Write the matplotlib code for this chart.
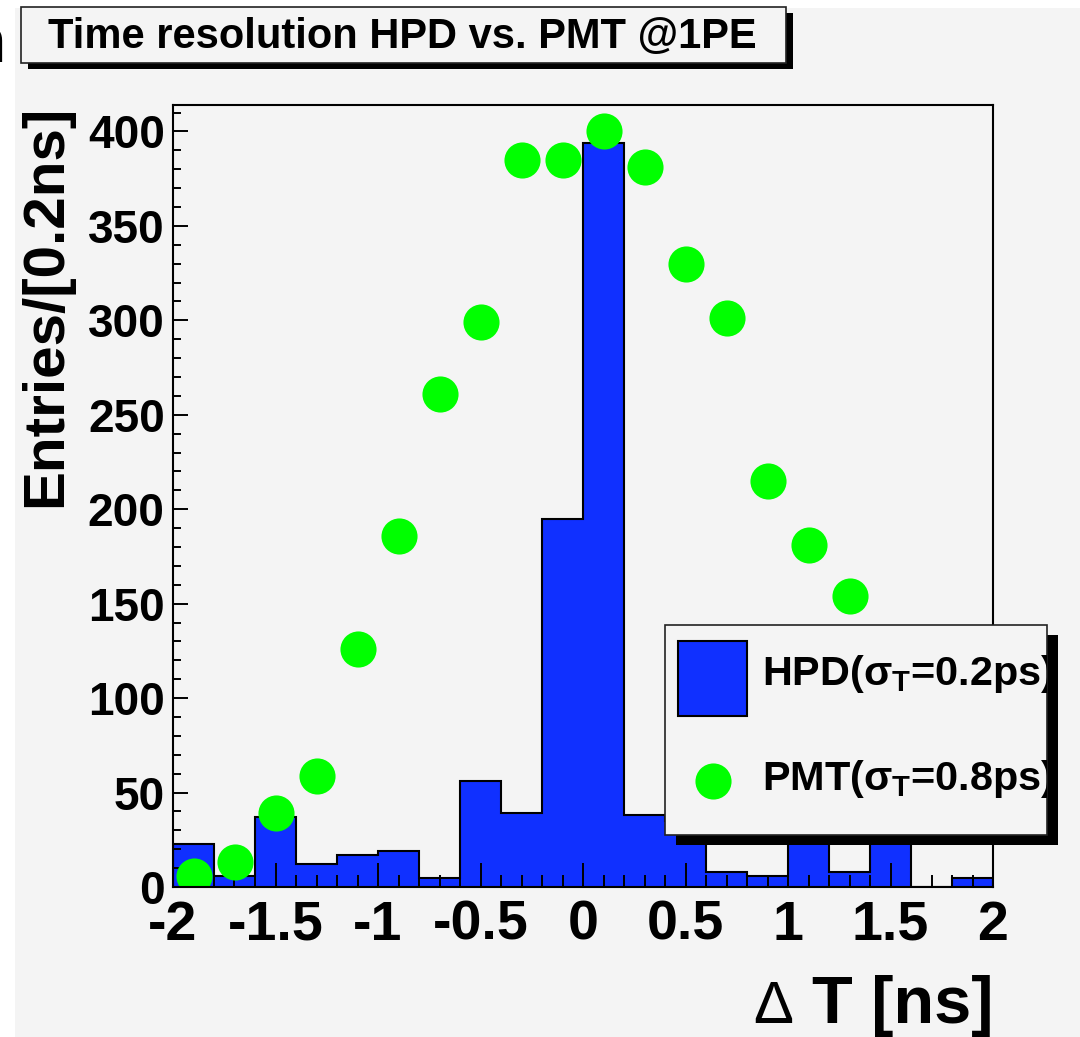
import numpy as np
import matplotlib
matplotlib.use("Agg")
import matplotlib.pyplot as plt
from matplotlib.patches import Rectangle
from matplotlib.lines import Line2D
from matplotlib.ticker import MultipleLocator, FixedLocator

plt.rcParams["font.family"] = ["Liberation Sans", "DejaVu Sans"]
plt.rcParams["mathtext.fontset"] = "custom"
plt.rcParams["mathtext.rm"] = "Liberation Sans"
plt.rcParams["mathtext.bf"] = "Liberation Sans:bold"

# HPD histogram, 0.2 ns bins
bin_edges = [-2.0, -1.8, -1.6, -1.4, -1.2, -1.0, -0.8, -0.6, -0.4, -0.2, 0.0,
             0.2, 0.4, 0.6, 0.8, 1.0, 1.2, 1.4, 1.6, 1.8, 2.0]
hpd_counts = [23, 6, 37, 12, 17, 19, 5, 56, 39, 195, 394,
              38, 35, 8, 6, 28, 8, 30, 0, 5]

# PMT points at bin centres
pmt_x = [-1.9, -1.7, -1.5, -1.3, -1.1, -0.9, -0.7, -0.5, -0.3, -0.1,
         0.1, 0.3, 0.5, 0.7, 0.9, 1.1, 1.3, 1.5, 1.7, 1.9]
pmt_counts = [6, 13, 39, 59, 126, 186, 261, 299, 385, 385,
              400, 381, 330, 301, 215, 181, 154, 110, 75, 45]

x_ticks = [-2, -1.5, -1, -0.5, 0, 0.5, 1, 1.5, 2]
x_tick_labels = ["-2", "-1.5", "-1", "-0.5", "0", "0.5", "1", "1.5", "2"]
y_ticks = [0, 50, 100, 150, 200, 250, 300, 350, 400]

title = "Time resolution HPD vs. PMT @1PE"
hpd_label = r"HPD(σ$_{\mathbf{T}}$=0.2ps)"
pmt_label = r"PMT(σ$_{\mathbf{T}}$=0.8ps)"

blue = "#1030ff"
green = "#00ff00"
grey = "#f4f4f4"

W, H = 1080, 1037


def fx(x):
    return x / W


def fy(y):
    return 1 - y / H


fig = plt.figure(figsize=(W / 100, H / 100), dpi=100)
fig.patch.set_facecolor("white")

# grey canvas with a thin white margin at left and top
fig.add_artist(Rectangle((fx(15), 0), 1 - fx(15), fy(8), transform=fig.transFigure,
                         facecolor=grey, edgecolor="none", zorder=-10))

ax = fig.add_axes([fx(173), fy(887), fx(993) - fx(173), fy(105) - fy(887)])
ax.set_facecolor(grey)

# histogram fill + outline
ax.stairs(hpd_counts, bin_edges, fill=True, color=blue, zorder=1)
ax.stairs(hpd_counts, bin_edges, baseline=0, color="black", linewidth=1.5, zorder=1.2)

# PMT markers
ax.plot(pmt_x, pmt_counts, "o", color=green, markersize=26, markeredgewidth=0, zorder=3)

ax.set_xlim(-2, 2)
ax.set_ylim(0, 414)

ax.xaxis.set_major_locator(FixedLocator(x_ticks))
ax.set_xticklabels(x_tick_labels)
ax.xaxis.set_minor_locator(MultipleLocator(0.1))
ax.yaxis.set_major_locator(FixedLocator(y_ticks))
ax.yaxis.set_minor_locator(MultipleLocator(10))

ax.tick_params(axis="x", which="major", direction="in", length=17, width=1.4,
               labelsize=40, pad=9, top=False)
ax.tick_params(axis="x", which="minor", direction="in", length=9, width=1.4, top=False)
ax.tick_params(axis="y", which="major", direction="in", length=11, width=1.4,
               labelsize=33, pad=6, right=False)
ax.tick_params(axis="y", which="minor", direction="in", length=5.5, width=1.4, right=False)
for lab in ax.get_xticklabels() + ax.get_yticklabels():
    lab.set_fontweight("bold")

for sp in ax.spines.values():
    sp.set_linewidth(1.5)
    sp.set_zorder(4)

# axis titles
fig.text(fx(46), fy(105), "Entries/[0.2ns]", rotation=90, ha="center", va="top",
         fontsize=42, fontweight="bold")
fig.text(fx(753), fy(1023), "Δ", ha="left", va="baseline", fontsize=43)
fig.text(fx(993), fy(1023), "T [ns]", ha="right", va="baseline", fontsize=48,
         fontweight="bold")

# title box with shadow
fig.add_artist(Rectangle((fx(28), fy(69)), fx(786) - fx(21), fy(7) - fy(63),
                         transform=fig.transFigure, facecolor="black", edgecolor="none", zorder=5))
fig.add_artist(Rectangle((fx(21), fy(63)), fx(786) - fx(21), fy(7) - fy(63),
                         transform=fig.transFigure, facecolor=grey, edgecolor="#222222",
                         linewidth=1.2, zorder=6))
fig.text(fx(402), fy(37), title, ha="center", va="center", fontsize=30,
         fontweight="bold", zorder=7)

# cut-off letter at the left edge
fig.text(fx(6), fy(62), "n", ha="right", va="baseline", fontsize=46, fontweight="bold")

# legend box with shadow
fig.add_artist(Rectangle((fx(676), fy(845)), fx(1047) - fx(665), fy(625) - fy(835),
                         transform=fig.transFigure, facecolor="black", edgecolor="none", zorder=5))
leg_box = Rectangle((fx(665), fy(835)), fx(1047) - fx(665), fy(625) - fy(835),
                    transform=fig.transFigure, facecolor=grey, edgecolor="#222222",
                    linewidth=1.2, zorder=6)
fig.add_artist(leg_box)
fig.add_artist(Rectangle((fx(678), fy(716)), fx(747) - fx(678), fy(641) - fy(716),
                         transform=fig.transFigure, facecolor=blue, edgecolor="black",
                         linewidth=1.5, zorder=7))
fig.add_artist(Line2D([fx(713)], [fy(781)], transform=fig.transFigure, marker="o",
                      color=green, markersize=26, markeredgewidth=0, linestyle="none",
                      zorder=7))
t1 = fig.text(fx(762), fy(685), hpd_label, ha="left", va="baseline", fontsize=29.8,
              fontweight="bold", zorder=8)
t2 = fig.text(fx(762), fy(790), pmt_label, ha="left", va="baseline", fontsize=29.8,
              fontweight="bold", zorder=8)
t1.set_clip_path(leg_box)
t2.set_clip_path(leg_box)

fig.savefig("out.png", dpi=100)
